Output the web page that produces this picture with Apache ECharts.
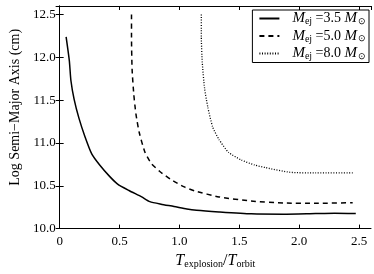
<!DOCTYPE html>
<html><head><meta charset="utf-8">
<script src="https://cdn.jsdelivr.net/npm/echarts@6/dist/echarts.min.js"></script>
<style>html,body{margin:0;padding:0;background:#fff}#c{width:374px;height:274px}</style>
</head><body><div id="c"></div>
<script>
var xTicks = [0, 0.5, 1.0, 1.5, 2.0, 2.5];
var yTicks = [10.0, 10.5, 11.0, 11.5, 12.0, 12.5];
var seriesNames = ['3.5', '5.0', '8.0'];
var ratio35 = [0.054, 0.081, 0.094, 0.121, 0.161, 0.210, 0.269, 0.336, 0.417, 0.484, 0.579, 0.685, 0.753, 0.847, 0.955, 1.062, 1.143, 1.331, 1.600, 1.869, 2.137, 2.296, 2.473];
var axis35  = [12.24, 11.96, 11.73, 11.51, 11.29, 11.08, 10.87, 10.74, 10.61, 10.52, 10.445, 10.37, 10.315, 10.285, 10.258, 10.228, 10.213, 10.194, 10.172, 10.168, 10.176, 10.18, 10.176];
var ratio50 = [0.600, 0.600, 0.605, 0.619, 0.637, 0.665, 0.713, 0.766, 0.834, 0.927, 1.035, 1.129, 1.331, 1.600, 1.869, 2.137, 2.447];
var axis50  = [12.50, 12.24, 11.86, 11.57, 11.34, 11.12, 10.89, 10.76, 10.67, 10.575, 10.49, 10.44, 10.37, 10.322, 10.299, 10.295, 10.303];
var ratio80 = [1.183, 1.183, 1.191, 1.210, 1.237, 1.277, 1.331, 1.411, 1.519, 1.627, 1.720, 1.923, 2.137, 2.460];
var axis80  = [12.50, 12.24, 11.94, 11.64, 11.42, 11.19, 11.04, 10.89, 10.80, 10.743, 10.712, 10.658, 10.65, 10.65];

function pairs(xs, ys){ return xs.map(function(x,i){ return [x, ys[i]]; }); }
var font = 'Liberation Serif';
var chart = echarts.init(document.getElementById('c'), null, {renderer:'canvas'});
function legendLabel(v){ return '{m0|M}{s|ej}{t| =' + v + ' }{m|M}{o|\u2299}'; }
var seriesStyles = [
  {type:'solid', width:1.5},
  {type:[5,4], width:1.5},
  {type:[1,1.6], width:1.3}
];
var datas = [pairs(ratio35, axis35), pairs(ratio50, axis50), pairs(ratio80, axis80)];
var series = seriesNames.map(function(n, i){
  return {
    name: legendLabel(n), type:'line', data: datas[i], symbol:'none', showSymbol:false,
    smooth:0.2,
    lineStyle:{color:'#000', width:seriesStyles[i].width, type:seriesStyles[i].type},
    itemStyle:{color:'#000'}, animation:false, clip:true
  };
});
var axisCommon = {
  axisLine:{show:true, lineStyle:{color:'#000', width:1}},
  axisTick:{show:true, inside:true, length:4, lineStyle:{color:'#000', width:1}},
  splitLine:{show:false}
};
chart.setOption({
  animation:false,
  grid:{left:48, right:3, top:6, bottom:36},
  legend:{
    top:10, right:5, orient:'vertical', itemWidth:20, itemHeight:14, itemGap:2,
    backgroundColor:'#fff', borderColor:'#000', borderWidth:1, borderRadius:0,
    padding:[1,3,1,6],
    itemStyle:{opacity:0},
    formatter:function(n){ return n; },
    textStyle:{fontFamily:font, color:'#000', fontSize:14,
      rich:{m0:{fontFamily:font, fontStyle:'italic', fontSize:15, color:'#000', padding:[0,0,0,8], lineHeight:15},
            m:{fontFamily:font, fontStyle:'italic', fontSize:15, color:'#000', lineHeight:15},
            s:{fontFamily:font, fontSize:10, color:'#000', padding:[6,0,0,0]},
            o:{fontFamily:font, fontSize:9, color:'#000', padding:[6,0,0,1]},
            t:{fontFamily:font, fontSize:14, color:'#000', lineHeight:15}}},
    data: seriesNames.map(legendLabel)
  },
  xAxis:[
    Object.assign({type:'value', min:0, max:2.6, interval:0.5, position:'bottom',
      axisLabel:{color:'#000', fontFamily:font, fontSize:13, margin:6, showMaxLabel:false,
        formatter:function(v){ return v===0 ? '0' : v.toFixed(1); }},
      name:'{T|T}{s|explosion}{n|/}{T|T}{s|orbit}', nameLocation:'middle', nameGap:22,
      nameTextStyle:{fontFamily:font, color:'#000', fontSize:13,
        rich:{T:{fontFamily:font, fontStyle:'italic', fontSize:16, color:'#000'},
              s:{fontFamily:font, fontSize:10, color:'#000', padding:[7,0,0,0]},
              n:{fontFamily:font, fontSize:16, color:'#000'}}}
    }, axisCommon),
    Object.assign({type:'value', min:0, max:2.6, interval:0.5, position:'top',
      axisLabel:{show:false}}, axisCommon)
  ],
  yAxis:[
    Object.assign({type:'value', min:10, max:12.6, interval:0.5, position:'left',
      axisLabel:{color:'#000', fontFamily:font, fontSize:13, margin:4, showMaxLabel:false,
        formatter:function(v){ return v.toFixed(1); }},
      name:'Log Semi\u2212Major Axis (cm)', nameLocation:'middle', nameGap:35,
      nameTextStyle:{fontFamily:font, color:'#000', fontSize:14, padding:[0,0,0,20]}
    }, axisCommon),
    Object.assign({type:'value', min:10, max:12.6, interval:0.5, position:'right',
      axisLabel:{show:false}}, axisCommon)
  ],
  series: series
});
</script></body></html>
